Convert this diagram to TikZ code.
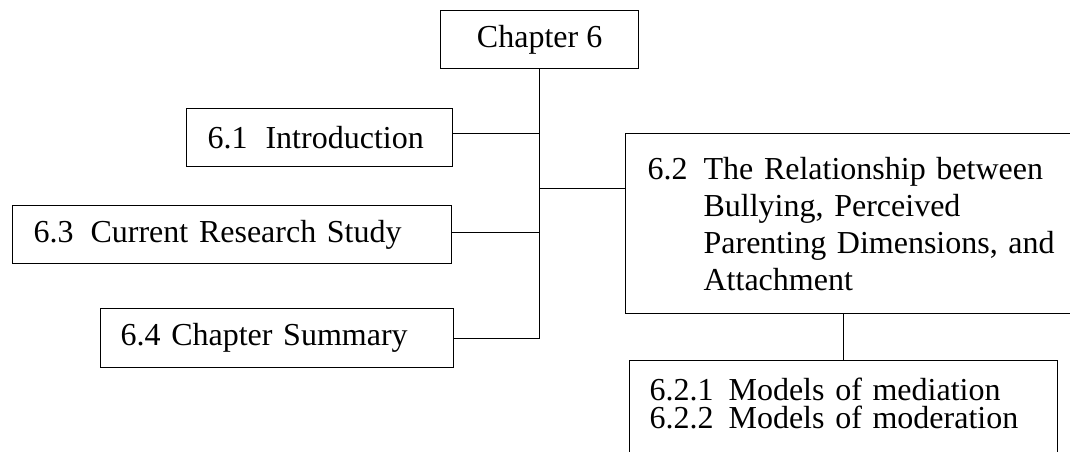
\documentclass[tikz,border=0pt]{standalone}
\usepackage{fontspec}
\setmainfont{Liberation Serif}
\begin{document}
\begin{tikzpicture}[line width=0.6pt,
  box/.style={draw, rectangle, anchor=north west, align=left, inner ysep=0pt, minimum height=29pt, font=\fontsize{16}{18.5}\selectfont},
  title/.style={draw, rectangle, anchor=north west, align=center, minimum width=99pt, minimum height=29pt, font=\fontsize{16}{18.5}\selectfont}]
\useasboundingbox (0,0) rectangle (535pt,-225.5pt);
\clip (0,0) rectangle (535pt,-225.5pt);
% chapter and sections
\node[title] (ch6) at (220pt,-5pt) {Chapter 6};
\node[box, inner xsep=10.5pt, text width=112pt] (s61) at (93pt,-54pt) {\makebox[29pt][l]{6.1}Introduction};
\node[box, inner xsep=10.5pt, text width=198.5pt] (s63) at (6pt,-102.5pt) {\makebox[28.5pt][l]{6.3}Current Research Study};
\node[box, inner xsep=10pt, text width=156.5pt, minimum height=29.5pt] (s64) at (50pt,-154pt) {6.4 Chapter Summary};
\node[box, inner xsep=11pt, text width=205.5pt, minimum height=90pt] (s62) at (312.5pt,-66.5pt)
  {\makebox[28pt][l]{6.2}The Relationship between\\ \hspace*{28pt}Bullying, Perceived\\ \hspace*{28pt}Parenting Dimensions, and\\ \hspace*{28pt}Attachment};
\node[box, inner xsep=10pt, inner ysep=9pt, text width=194pt, text height=11pt, text depth=25pt, font=\fontsize{16}{14}\selectfont] (s62x) at (314.5pt,-180pt)
  {\makebox[39.5pt][l]{6.2.1}Models of mediation\\ \makebox[39.5pt][l]{6.2.2}Models of moderation};
% connectors
\draw (ch6.south) -- (ch6.south |- s64.east) -- (s64.east);
\draw ([yshift=2pt]s61.east) -- ([yshift=2pt]s61.east -| ch6.south);
\draw ([yshift=1pt]s63.east) -- ([yshift=1pt]s63.east -| ch6.south);
\draw ([yshift=17.5pt]s62.west) -- ([yshift=17.5pt]s62.west -| ch6.south);
\draw (s62x.north) -- (s62x.north |- s62.south);
\end{tikzpicture}
\end{document}
